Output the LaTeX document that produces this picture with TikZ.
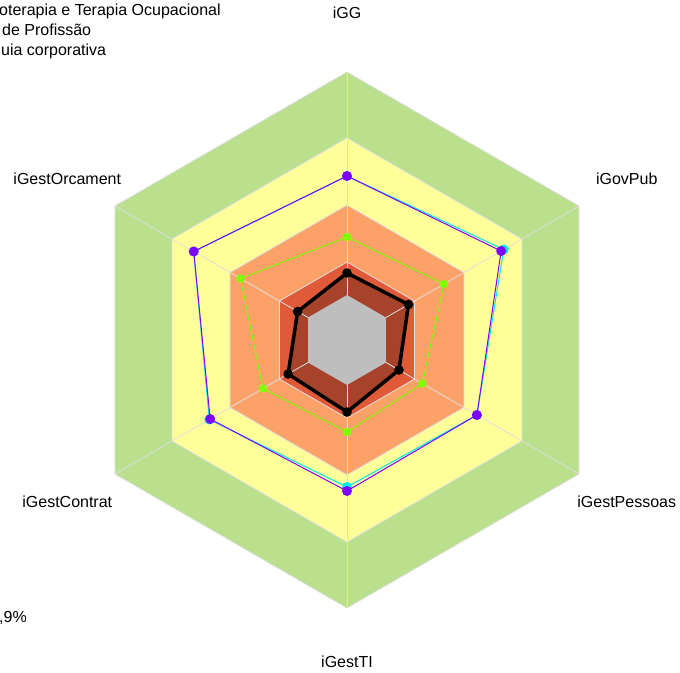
\documentclass[tikz,border=0pt]{standalone}
\usepackage{fontspec}
\setmainfont{Liberation Sans}

\definecolor{bandGreen}{RGB}{186,224,142}
\definecolor{bandYellow}{RGB}{255,255,153}
\definecolor{bandOrange}{RGB}{252,162,105}
\definecolor{bandRed}{RGB}{224,90,58}
\definecolor{bandGray}{RGB}{190,190,190}
\definecolor{gridLine}{RGB}{222,222,222}
\definecolor{seriesPurple}{RGB}{127,0,255}
\definecolor{seriesCyan}{RGB}{0,235,235}
\definecolor{seriesLime}{RGB}{128,255,0}

\begin{document}
\begin{tikzpicture}[x=1pt, y=1pt,
    axislabel/.style={font=\fontsize{16}{20}\selectfont, inner sep=0pt},
    legendtext/.style={font=\fontsize{16}{20}\selectfont, inner sep=0pt, anchor=base west}]
        \useasboundingbox (-347,-332) rectangle (333,340);

        % Background bands
        \fill[bandGreen] (90:268) -- (30:268) -- (-30:268) -- (-90:268) -- (210:268) -- (150:268) -- cycle;
        \fill[bandYellow] (90:202) -- (30:202) -- (-30:202) -- (-90:202) -- (210:202) -- (150:202) -- cycle;
        \fill[bandOrange] (90:135) -- (30:135) -- (-30:135) -- (-90:135) -- (210:135) -- (150:135) -- cycle;
        \fill[bandRed] (90:78) -- (30:78) -- (-30:78) -- (-90:78) -- (210:78) -- (150:78) -- cycle;

        % Area of the black series
        \fill[black, fill opacity=0.25] (90:67) -- (30:71) -- (-30:60) -- (-90:72) -- (210:68) -- (150:57) -- cycle;

        % Grid: spokes and hexagons
        \draw[gridLine, line width=0.8pt] (0,0) -- (90:268);
        \draw[gridLine, line width=0.8pt] (0,0) -- (30:268);
        \draw[gridLine, line width=0.8pt] (0,0) -- (-30:268);
        \draw[gridLine, line width=0.8pt] (0,0) -- (-90:268);
        \draw[gridLine, line width=0.8pt] (0,0) -- (210:268);
        \draw[gridLine, line width=0.8pt] (0,0) -- (150:268);
        \draw[gridLine, line width=0.8pt] (90:268) -- (30:268) -- (-30:268) -- (-90:268) -- (210:268) -- (150:268) -- cycle;
        \draw[gridLine, line width=0.8pt] (90:202) -- (30:202) -- (-30:202) -- (-90:202) -- (210:202) -- (150:202) -- cycle;
        \draw[gridLine, line width=0.8pt] (90:135) -- (30:135) -- (-30:135) -- (-90:135) -- (210:135) -- (150:135) -- cycle;
        \draw[gridLine, line width=0.8pt] (90:78) -- (30:78) -- (-30:78) -- (-90:78) -- (210:78) -- (150:78) -- cycle;

        % Inner gray hexagon
        \fill[bandGray] (90:45) -- (30:45) -- (-30:45) -- (-90:45) -- (210:45) -- (150:45) -- cycle;

        % Series: cyan
        \draw[seriesCyan, line width=1pt] (90:164) -- (30:181) -- (-30:150) -- (-90:147) -- (210:159) -- (150:177) -- cycle;
        \foreach \a/\r in {90/164, 30/181, -30/150, -90/147, 210/159, 150/177}
            \fill[seriesCyan] (\a:\r) circle (5);

        % Series: purple
        \draw[seriesPurple, line width=1pt] (90:164) -- (30:178) -- (-30:150) -- (-90:151) -- (210:158) -- (150:177) -- cycle;
        \foreach \a/\r in {90/164, 30/178, -30/150, -90/151, 210/158, 150/177}
            \fill[seriesPurple] (\a:\r) circle (5);

        % Series: lime
        \draw[seriesLime, line width=0.9pt] (90:103) -- (30:112) -- (-30:87) -- (-90:92) -- (210:97) -- (150:123) -- cycle;
        \foreach \a/\r in {90/103, 30/112, -30/87, -90/92, 210/97, 150/123}
            \fill[seriesLime] (\a:\r) circle (4.2);

        % Series: black
        \draw[black, line width=3.5pt, line join=round] (90:67) -- (30:71) -- (-30:60) -- (-90:72) -- (210:68) -- (150:57) -- cycle;
        \foreach \a/\r in {90/67, 30/71, -30/60, -90/72, 210/68, 150/57}
            \fill[black] (\a:\r) circle (4.8);

        % Axis labels
        \node[axislabel] (lblGG) at (90:327) {iGG};
        \node[axislabel] (lblGovPub) at (30:323) {iGovPub};
        \node[axislabel] (lblGestPessoas) at (-30:323) {iGestPessoas};
        \node[axislabel] (lblGestTI) at (-90:322) {iGestTI};
        \node[axislabel] (lblGestContrat) at (210:323) {iGestContrat};
        \node[axislabel] (lblGestOrcament) at (150:323) {iGestOrcament};

        % Legend (cut off at the left edge)
        \node[legendtext] (legA) at (-348,324) {oterapia e Terapia Ocupacional};
        \node[legendtext] (legB) at (-345,304) {de Profissão};
        \node[legendtext] (legC) at (-346,284) {uia corporativa};
        \node[legendtext] (legD) at (-348,-282) {,9\%};

    \end{tikzpicture}
\end{document}
